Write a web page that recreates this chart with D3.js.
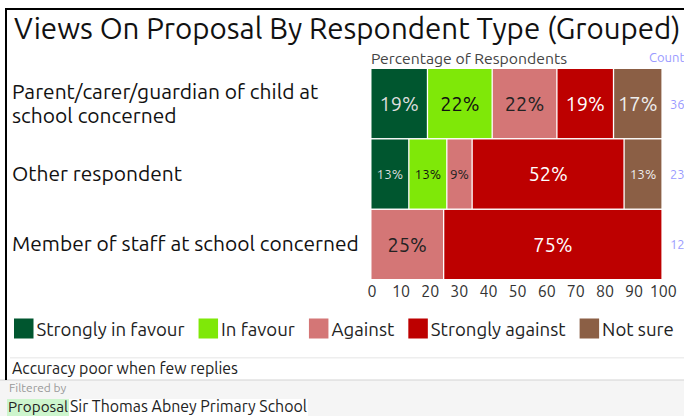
<!DOCTYPE html>
<html>
<head>
<meta charset="utf-8">
<script src="https://cdn.jsdelivr.net/npm/d3@7"></script>
<style>
  html, body { margin: 0; padding: 0; background: #fff; }
  svg { display: block; }
  text { font-family: Ubuntu, "Open Sans", "Noto Sans", sans-serif; }
</style>
</head>
<body>
<svg id="chart" width="684" height="416"></svg>
<script>
// ---- data -------------------------------------------------------------
const title = "Views On Proposal By Respondent Type (Grouped)";
const categories = [
  "Parent/carer/guardian of child at school concerned",
  "Other respondent",
  "Member of staff at school concerned"
];
const responses = ["Strongly in favour", "In favour", "Against", "Strongly against", "Not sure"];
// number of replies per respondent type, one array per response
const stronglyInFavour = [7, 3, 0];
const inFavour         = [8, 3, 0];
const against          = [8, 2, 3];
const stronglyAgainst  = [7, 12, 9];
const notSure          = [6, 3, 0];
const xTicks = [0, 10, 20, 30, 40, 50, 60, 70, 80, 90, 100];
const responseColors = ["#00562f", "#7fe808", "#d47676", "#bd0000", "#8b5f45"];
const labelColors    = ["#dddddd", "#111111", "#222222", "#ffffff", "#eeeeee"];
const filterName = "Proposal";
const filterValue = "Sir Thomas Abney Primary School";

// ---- derived table ------------------------------------------------------
const seriesCounts = [stronglyInFavour, inFavour, against, stronglyAgainst, notSure];
const totals = categories.map((c, i) => d3.sum(seriesCounts, s => s[i]));
const rows = categories.map((c, i) => {
  const r = { category: c, total: totals[i] };
  responses.forEach((k, j) => { r[k] = seriesCounts[j][i] / totals[i] * 100; });
  return r;
});
const stacked = d3.stack().keys(responses)(rows);

// ---- layout -------------------------------------------------------------
const svg = d3.select("#chart");
const x = d3.scaleLinear().domain([0, 100]).range([371.5, 662.7]);
const y = d3.scaleBand().domain(categories).range([69, 279]).paddingInner(0.02);
const color = d3.scaleOrdinal().domain(responses).range(responseColors);
const txtColor = d3.scaleOrdinal().domain(responses).range(labelColors);

function fit(sel, target) {
  const w = sel.node().getComputedTextLength();
  const fs = parseFloat(sel.attr("font-size"));
  sel.attr("font-size", (fs * target / w).toFixed(2));
}

// footer backgrounds first so text sits above them
const footBg = svg.append("g");
footBg.append("rect").attr("x", 10).attr("y", 357).attr("width", 674).attr("height", 1.5).attr("fill", "#eeeeee");
footBg.append("rect").attr("x", 0).attr("y", 380).attr("width", 684).attr("height", 36).attr("fill", "#f5f5f5");
footBg.append("rect").attr("x", 0).attr("y", 379.5).attr("width", 684).attr("height", 1).attr("fill", "#d4d4d4");

// frame
svg.append("rect").attr("x", 5).attr("y", 8).attr("width", 679).attr("height", 2).attr("fill", "#000");
svg.append("rect").attr("x", 5).attr("y", 8).attr("width", 2).attr("height", 372).attr("fill", "#000");

// title
const t = svg.append("text").attr("x", 14).attr("y", 38.5)
  .attr("font-size", 28).attr("fill", "#111").text(title);
fit(t, 667);

// axis caption + count header
const cap = svg.append("text").attr("x", 371).attr("y", 64)
  .attr("font-size", 15).attr("fill", "#444").text("Percentage of Respondents");
fit(cap, 196);
svg.append("text").attr("x", 649).attr("y", 62)
  .attr("font-size", 13).attr("fill", "#9a9aff").text("Count");

// category labels (wrapped)
const probe = svg.append("text").attr("font-size", 20).text(categories[2]);
const catSize = 20 * 347 / probe.node().getComputedTextLength();
probe.remove();
categories.forEach(c => {
  const g = svg.append("text").attr("x", 12).attr("font-size", catSize).attr("fill", "#111");
  const words = c.split(" ");
  const lines = [];
  let line = [];
  words.forEach(wd => {
    line.push(wd);
    g.text(line.join(" "));
    if (g.node().getComputedTextLength() > 352 && line.length > 1) {
      line.pop();
      lines.push(line.join(" "));
      line = [wd];
    }
  });
  lines.push(line.join(" "));
  g.text(null);
  const cy = y(c) + y.bandwidth() / 2;
  const lh = 24;
  lines.forEach((ln, i) => {
    g.append("tspan").attr("x", 12)
      .attr("y", cy + 7 - (lines.length - 1) * lh / 2 + i * lh)
      .text(ln);
  });
});

// bars
const layer = svg.append("g").selectAll("g").data(stacked).join("g")
  .attr("fill", d => color(d.key));
layer.each(function(s) {
  const g = d3.select(this);
  const segs = s.filter(d => d[1] - d[0] > 0);
  g.selectAll("rect").data(segs).join("rect")
    .attr("x", d => x(d[0]))
    .attr("y", d => y(d.data.category))
    .attr("width", d => Math.max(0, x(d[1]) - x(d[0]) - 1.3))
    .attr("height", y.bandwidth());
  g.selectAll("text").data(segs).join("text")
    .attr("x", d => (x(d[0]) + x(d[1]) - 1.3) / 2)
    .attr("y", d => y(d.data.category) + y.bandwidth() / 2)
    .attr("dy", "0.36em")
    .attr("text-anchor", "middle")
    .attr("fill", txtColor(s.key))
    .attr("font-size", d => (x(d[1]) - x(d[0]) >= 45 ? 20 : 13.5))
    .text(d => Math.round(d[1] - d[0]) + "%");
});

// counts
svg.append("g").selectAll("text").data(rows).join("text")
  .attr("x", 670)
  .attr("y", d => y(d.category) + y.bandwidth() / 2 + 5)
  .attr("font-size", 13).attr("fill", "#9a9aff")
  .text(d => d.total);

// x axis
const ax = svg.append("g").attr("transform", "translate(0,279)")
  .call(d3.axisBottom(x).tickValues(xTicks).tickSize(0).tickPadding(7).tickFormat(d3.format("d")));
ax.select(".domain").remove();
ax.selectAll("text").attr("font-size", 16).attr("fill", "#333")
  .style("font-family", 'Ubuntu, "Open Sans", "Noto Sans", sans-serif');

// legend
const leg = svg.append("g");
let lx = 14;
const legItems = responses.map(r => {
  const tx = leg.append("text").attr("y", 335.5).attr("font-size", 18).attr("fill", "#222").text(r);
  return { r, tx };
});
const natural = d3.sum(legItems, d => d.tx.node().getComputedTextLength());
const legScale = (660 - 5 * 22.5 - 4 * 14) / natural;
legItems.forEach(d => {
  d.tx.attr("font-size", (18 * legScale).toFixed(2));
  leg.append("rect").attr("x", lx).attr("y", 318.5).attr("width", 19.5).attr("height", 20)
    .attr("fill", color(d.r));
  d.tx.attr("x", lx + 22.5);
  lx += 22.5 + d.tx.node().getComputedTextLength() + 14;
});

// footer text
const acc = svg.append("text").attr("x", 12).attr("y", 374).attr("font-size", 15).attr("fill", "#222")
  .text("Accuracy poor when few replies");
fit(acc, 226);
svg.append("text").attr("x", 9).attr("y", 392).attr("font-size", 12).attr("fill", "#999").text("Filtered by");
const filterBg = svg.append("g");
const fName = svg.append("text").attr("x", 8).attr("y", 412).attr("font-size", 15).attr("fill", "#222").text(filterName);
fit(fName, 60);
const fw = fName.node().getComputedTextLength();
const fVal = svg.append("text").attr("x", 10 + fw).attr("y", 412).attr("font-size", 15).attr("fill", "#222").text(filterValue);
fit(fVal, 237);
const vw = fVal.node().getComputedTextLength();
filterBg.append("rect").attr("x", 7).attr("y", 399).attr("width", fw + 2).attr("height", 17).attr("fill", "#cdf5cd");
filterBg.append("rect").attr("x", 9 + fw).attr("y", 399).attr("width", vw + 2).attr("height", 17).attr("fill", "#fff");
</script>
</body>
</html>
